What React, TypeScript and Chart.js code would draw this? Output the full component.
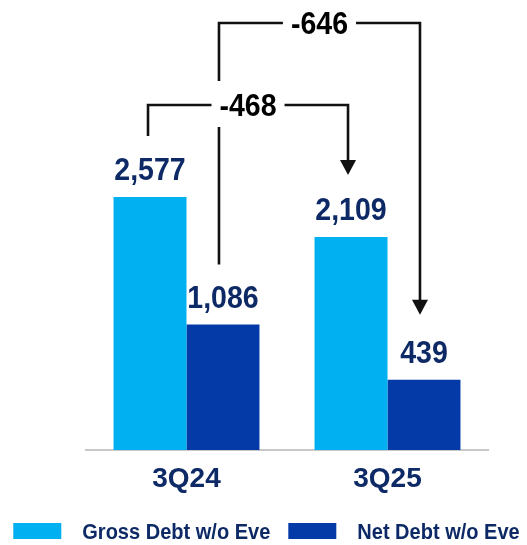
import React, { useEffect, useRef } from "react";
import { Chart, registerables } from "chart.js";

Chart.register(...registerables);

// ---- data ----
const categories = ["3Q24", "3Q25"];
const seriesNames = ["Gross Debt w/o Eve", "Net Debt w/o Eve"];
const grossDebt = [2577, 2109];
const netDebt = [1086, 439];
const changeGross = -468; // 3Q24 -> 3Q25 gross
const changeNet = -646; // 3Q24 -> 3Q25 net

// ---- styles ----
const LIGHT_BLUE = "#00B0F0";
const DARK_BLUE = "#033AA8";
const NAVY = "#0E2A66";
const FONT = "'Liberation Sans', Arial, sans-serif";
const Y_MIN = -380;
const Y_MAX = 4880;

const fmt = (v: number) => v.toLocaleString("en-US");

function scaledText(
  ctx: CanvasRenderingContext2D,
  text: string,
  x: number,
  y: number,
  size: number,
  color: string,
  sx: number,
  align: CanvasTextAlign = "center"
) {
  ctx.save();
  ctx.translate(x, y);
  ctx.scale(sx, 1);
  ctx.font = `bold ${size}px ${FONT}`;
  ctx.fillStyle = color;
  ctx.textAlign = align;
  ctx.textBaseline = "alphabetic";
  ctx.fillText(text, 0, 0);
  ctx.restore();
}

function textWidth(ctx: CanvasRenderingContext2D, text: string, size: number, sx: number) {
  ctx.save();
  ctx.font = `bold ${size}px ${FONT}`;
  const w = ctx.measureText(text).width * sx;
  ctx.restore();
  return w;
}

const annotationPlugin = {
  id: "annotations",
  afterDatasetsDraw(chart: any) {
    const ctx: CanvasRenderingContext2D = chart.ctx;
    const g = chart.getDatasetMeta(0).data;
    const n = chart.getDatasetMeta(1).data;
    const LABEL_SIZE = 31;
    const SX = 0.92;
    const LABEL_GAP = 17;
    const CAP = 22;

    // value labels
    [grossDebt, netDebt].forEach((vals, di) => {
      const els = di === 0 ? g : n;
      vals.forEach((v, i) => {
        const el = els[i];
        scaledText(ctx, fmt(v), el.x, el.y - LABEL_GAP, LABEL_SIZE, NAVY, SX);
      });
    });

    const labelTop = (el: any) => el.y - LABEL_GAP - CAP;

    const brackets = [
      {
        x1: n[0].x - 4,
        y1: labelTop(n[0]) - 21,
        x2: n[1].x - 4,
        y2: labelTop(n[1]) - 26,
        yTop: 23,
        text: String(changeNet),
      },
      {
        x1: g[0].x - 2,
        y1: labelTop(g[0]) - 22,
        x2: g[1].x - 3,
        y2: labelTop(g[1]) - 23,
        yTop: 105,
        text: String(changeGross),
      },
    ];

    ctx.save();
    ctx.strokeStyle = "#111111";
    ctx.fillStyle = "#111111";
    ctx.lineWidth = 2.6;
    ctx.lineJoin = "miter";
    ctx.lineCap = "butt";
    const AH = 15;
    const AW = 8;
    brackets.forEach((b) => {
      ctx.beginPath();
      ctx.moveTo(b.x1, b.y1);
      ctx.lineTo(b.x1, b.yTop);
      ctx.lineTo(b.x2, b.yTop);
      ctx.lineTo(b.x2, b.y2 - AH + 1);
      ctx.stroke();
      ctx.beginPath();
      ctx.moveTo(b.x2 - AW, b.y2 - AH);
      ctx.lineTo(b.x2 + AW, b.y2 - AH);
      ctx.lineTo(b.x2, b.y2);
      ctx.closePath();
      ctx.fill();
    });
    ctx.restore();

    brackets.forEach((b) => {
      const cx = (b.x1 + b.x2) / 2;
      const w = textWidth(ctx, b.text, LABEL_SIZE, SX);
      ctx.save();
      ctx.fillStyle = "#ffffff";
      ctx.fillRect(cx - w / 2 - 8, b.yTop - 24, w + 16, 46);
      ctx.restore();
      scaledText(ctx, b.text, cx, b.yTop + 11, LABEL_SIZE, "#000000", SX);
    });
  },
  afterDraw(chart: any) {
    // legend
    const ctx: CanvasRenderingContext2D = chart.ctx;
    const SIZE = 22;
    const SX = 0.91;
    const BOX_W = 48;
    const BOX_H = 16;
    const GAP = 21;
    const ITEM_GAP = 18;
    const items = chart.data.datasets.map((d: any) => ({
      label: d.label as string,
      color: d.backgroundColor as string,
      w: textWidth(ctx, d.label, SIZE, SX),
    }));
    const total =
      items.reduce((s: number, it: any) => s + BOX_W + GAP + it.w, 0) +
      ITEM_GAP * (items.length - 1);
    let x = chart.width / 2 + 3 - total / 2;
    const boxTop = chart.height - 22;
    items.forEach((it: any) => {
      ctx.save();
      ctx.fillStyle = it.color;
      ctx.fillRect(x, boxTop, BOX_W, BOX_H);
      ctx.restore();
      x += BOX_W + GAP;
      scaledText(ctx, it.label, x, boxTop + BOX_H, SIZE, NAVY, SX, "left");
      x += it.w + ITEM_GAP;
    });
  },
};

export default function App() {
  const ref = useRef<HTMLCanvasElement | null>(null);
  useEffect(() => {
    if (!ref.current) return;
    const chart = new Chart(ref.current, {
      type: "bar",
      data: {
        labels: categories,
        datasets: [
          {
            label: seriesNames[0],
            data: grossDebt,
            backgroundColor: LIGHT_BLUE,
            base: Y_MIN,
          } as any,
          {
            label: seriesNames[1],
            data: netDebt,
            backgroundColor: DARK_BLUE,
            base: Y_MIN,
          } as any,
        ],
      },
      options: {
        animation: false,
        responsive: false,
        devicePixelRatio: 1,
        layout: { padding: { left: 86, right: 39, top: 0, bottom: 35.5 } },
        datasets: {
          bar: { categoryPercentage: 0.726, barPercentage: 1.0 },
        },
        plugins: {
          legend: { display: false },
          tooltip: { enabled: false },
          title: { display: false },
        },
        scales: {
          x: {
            grid: { display: false, drawTicks: false },
            border: { display: true, color: "#C8C8C8", width: 2 },
            ticks: {
              color: NAVY,
              padding: 13,
              font: { family: FONT, size: 28, weight: "bold" },
            },
          },
          y: {
            display: false,
            min: Y_MIN,
            max: Y_MAX,
          },
        },
      },
      plugins: [annotationPlugin],
    });
    return () => chart.destroy();
  }, []);
  return (
    <div style={{ position: "absolute", left: 0, top: 0, width: 527, height: 545, background: "#fff" }}>
      <canvas ref={ref} width={527} height={545} />
    </div>
  );
}
